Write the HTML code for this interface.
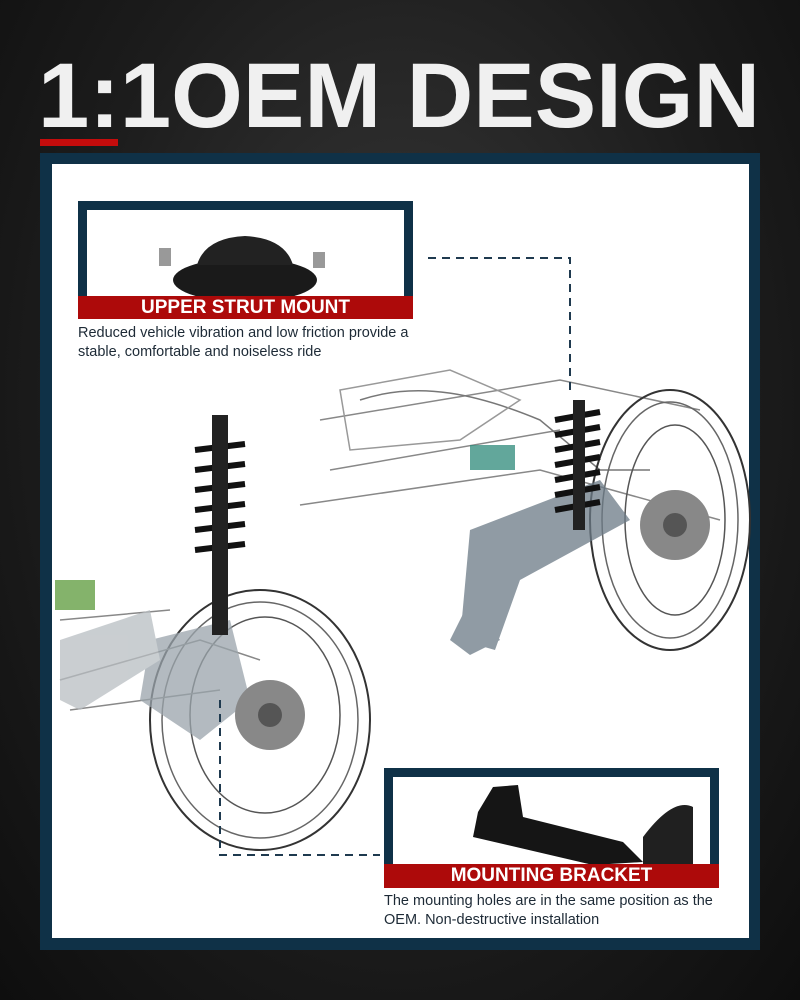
<!DOCTYPE html>
<html><head><meta charset="utf-8"><style>
html,body{margin:0;padding:0}
body{width:800px;height:1000px;position:relative;overflow:hidden;background:radial-gradient(ellipse at 50% 40%,#3a3a3a 0%,#1c1c1c 60%,#0e0e0e 100%);font-family:"Liberation Sans",sans-serif}
.abs{position:absolute}
.panel{left:40px;top:153px;width:720px;height:797px;background:#0f3147}
.white{left:52px;top:164px;width:697px;height:774px;background:#fff}
.box{border:9px solid #0f3147;background:#fff;box-sizing:border-box}
.red{background:#ad0a0a;color:#fff;font-weight:bold;font-size:19px;text-align:center;line-height:24px}
.desc{font-size:14.5px;color:#1d2a36;line-height:19px}
</style></head><body>
<svg class="abs" style="left:0;top:0" width="800" height="160">
<text x="38" y="127" font-family="Liberation Sans, sans-serif" font-weight="bold" font-size="92" fill="#f0f0f0" textLength="722" lengthAdjust="spacingAndGlyphs">1:1OEM DESIGN</text>
<rect x="40" y="139" width="78" height="7" fill="#c40c0c"/>
</svg>
<div class="abs panel"></div>
<div class="abs white"></div>
<svg class="abs" style="left:0;top:0" width="800" height="1000">
<g fill="none" stroke="#555" stroke-width="1.5">
<path d="M320 420 L560 380 L700 410 M330 470 L560 430 M300 505 L540 470 L720 520" stroke="#888"/>
<path d="M360 400 C420 380 480 395 540 420 L600 470 L650 470" stroke="#777"/>
<path d="M340 390 L450 370 L520 400 L460 440 L350 450 Z" stroke="#999"/>
<ellipse cx="670" cy="520" rx="80" ry="130" stroke="#333" stroke-width="2"/>
<ellipse cx="670" cy="520" rx="68" ry="118" stroke="#666"/>
<ellipse cx="675" cy="520" rx="50" ry="95"/>
<ellipse cx="260" cy="720" rx="110" ry="130" stroke="#333" stroke-width="2"/>
<ellipse cx="260" cy="720" rx="98" ry="118" stroke="#666"/>
<ellipse cx="265" cy="715" rx="75" ry="98"/>
<path d="M60 680 L200 640 L260 660 M70 710 L220 690 M60 620 L170 610" stroke="#888"/>
</g>
<g fill="#6b7a86" opacity=".75">
<path d="M470 530 L600 480 L630 520 L520 580 L495 650 L460 640 Z"/>
<path d="M470 600 L500 640 L470 655 L450 640 Z"/>
<path d="M150 640 L230 620 L250 700 L200 740 L140 700 Z" fill="#9aa4ab"/>
<path d="M60 640 L150 610 L160 660 L80 710 L60 700 Z" fill="#b8bec2"/>
<rect x="470" y="445" width="45" height="25" fill="#2e8a7a"/>
<rect x="55" y="580" width="40" height="30" fill="#5c9a3a"/>
</g>
<g fill="none" stroke="#111" stroke-width="6">
<path d="M555 420 l45 -8 M555 435 l45 -8 M555 450 l45 -8 M555 465 l45 -8 M555 480 l45 -8 M555 495 l45 -8 M555 510 l45 -8"/>
<path d="M195 450 l50 -6 M195 470 l50 -6 M195 490 l50 -6 M195 510 l50 -6 M195 530 l50 -6 M195 550 l50 -6"/>
</g>
<rect x="212" y="415" width="16" height="220" fill="#222"/>
<rect x="573" y="400" width="12" height="130" fill="#222"/>
<circle cx="675" cy="525" r="35" fill="#888"/><circle cx="270" cy="715" r="35" fill="#888"/>
<circle cx="675" cy="525" r="12" fill="#555"/><circle cx="270" cy="715" r="12" fill="#555"/>
<g fill="none" stroke="#1f3a4f" stroke-width="2" stroke-dasharray="8 6">
<path d="M428 258 H570 V395"/>
<path d="M220 700 V855 H380"/>
</g>
</svg>
<div class="abs box" style="left:78px;top:201px;width:335px;height:118px">
<svg width="317" height="86" style="display:block">
<ellipse cx="158" cy="70" rx="72" ry="22" fill="#1a1a1a"/>
<path d="M110 55 Q118 28 158 26 Q198 28 206 55 Z" fill="#222"/>
<rect x="72" y="38" width="12" height="18" fill="#999"/><rect x="226" y="42" width="12" height="16" fill="#999"/>
</svg>
</div>
<div class="abs red" style="left:78px;top:296px;width:335px;height:23px">UPPER STRUT MOUNT</div>
<div class="abs desc" style="left:78px;top:324px">Reduced vehicle vibration and low friction provide a<br>stable, comfortable and noiseless ride</div>
<div class="abs box" style="left:384px;top:768px;width:335px;height:120px">
<svg width="317" height="90" style="display:block">
<path d="M85 35 L100 10 L125 8 L130 40 L230 65 L250 85 L200 88 L80 60 Z" fill="#151515"/>
<path d="M250 60 Q280 20 300 30 L300 90 L250 90 Z" fill="#202020"/>
</svg>
</div>
<div class="abs red" style="left:384px;top:864px;width:335px;height:24px">MOUNTING BRACKET</div>
<div class="abs desc" style="left:384px;top:892px">The mounting holes are in the same position as the<br>OEM. Non-destructive installation</div>
</body></html>
